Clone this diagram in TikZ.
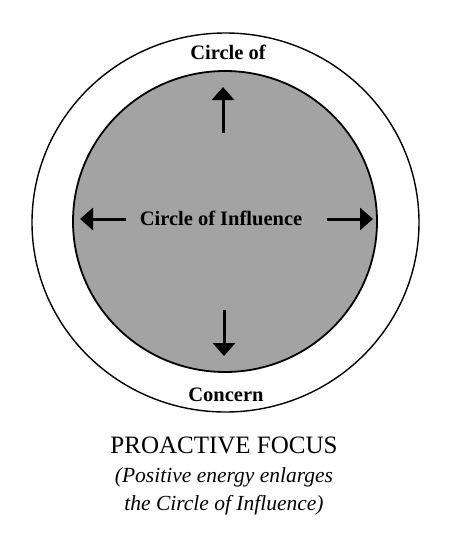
\documentclass[tikz,border=0pt]{standalone}
\usepackage{fontspec}
\setmainfont{Liberation Serif}
\usetikzlibrary{arrows.meta}

\tikzset{
  growarrow/.style={-{Triangle[length=13pt,width=22pt]},line width=3pt},
  ringtext/.style={font=\fontsize{20.5}{24}\selectfont\bfseries},
}

\begin{document}
\begin{tikzpicture}[x=1pt,y=-1pt]
  \useasboundingbox (0,0) rectangle (448,533);

  % Circle of Concern and Circle of Influence
  \draw[line width=1.4pt] (225.5,222.5) ellipse[x radius=193.5,y radius=189.5];
  \draw[line width=1.8pt,fill=black!36] (225,221.5) ellipse[x radius=152,y radius=150.5];

  \node[ringtext] (concerntop) at (228,52) {Circle of};
  \node[ringtext] (concernbot) at (226,395) {Concern};
  \node[ringtext] (influence) at (221,218) {Circle of Influence};

  % Arrows pushing outwards
  \coordinate (upfrom) at (223,133);
  \coordinate (upto) at (223,87);
  \coordinate (downfrom) at (224,310);
  \coordinate (downto) at (224,356);
  \coordinate (leftfrom) at (126,219);
  \coordinate (leftto) at (80,219);
  \coordinate (rightfrom) at (327,219);
  \coordinate (rightto) at (373,219);
  \draw[growarrow] (upfrom) -- (upto);
  \draw[growarrow] (downfrom) -- (downto);
  \draw[growarrow] (leftfrom) -- (leftto);
  \draw[growarrow] (rightfrom) -- (rightto);

  % Caption
  \node[font=\fontsize{25}{30}\selectfont] (title) at (224,445) {PROACTIVE FOCUS};
  \node[font=\fontsize{21.5}{26}\selectfont\itshape] (subone) at (224,477) {(Positive energy enlarges};
  \node[font=\fontsize{21.5}{26}\selectfont\itshape] (subtwo) at (224,505) {the Circle of Influence)};
\end{tikzpicture}
\end{document}
